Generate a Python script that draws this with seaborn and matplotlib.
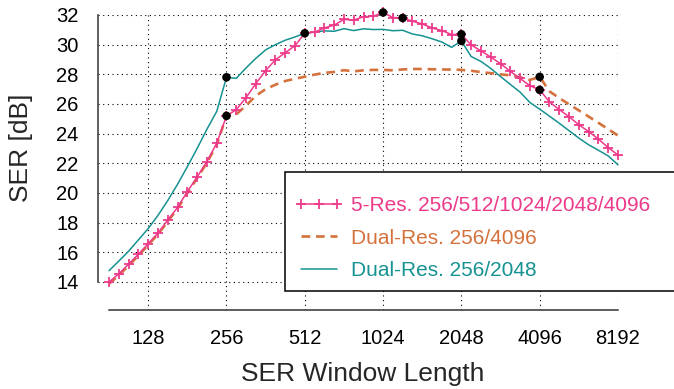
import numpy as np
import pandas as pd
import matplotlib
matplotlib.use("Agg")
import matplotlib.pyplot as plt
import matplotlib.ticker as mticker
from matplotlib.patches import Rectangle
import seaborn as sns

# ---------------- data ----------------
window_len = [90.5, 98.7, 107.6, 117.4, 128, 139.6, 152.2, 166.0, 181.0, 197.4, 215.3, 234.8,
              256, 279.2, 304.4, 332.0, 362.0, 394.8, 430.5, 469.5, 512, 558.3, 608.9, 664.0,
              724.1, 789.6, 861.1, 939.0, 1024, 1116.7, 1217.7, 1327.9, 1448.2, 1579.2, 1722.2,
              1878.0, 2048, 2233.4, 2435.5, 2655.9, 2896.3, 3158.4, 3444.3, 3756.0, 4096, 4466.8,
              4871.0, 5311.9, 5792.6, 6316.9, 6888.6, 7512.0, 8192]

ser_5res = [14.0, 14.55, 15.2, 15.87, 16.58, 17.3, 18.17, 19.03, 20.09, 21.08, 22.12, 23.35,
            25.2, 25.62, 26.43, 27.38, 28.25, 28.98, 29.46, 29.93, 30.77, 30.84, 31.13, 31.32,
            31.7, 31.66, 31.88, 31.92, 32.17, 31.83, 31.8, 31.58, 31.4, 31.13, 30.95,
            30.68, 30.7, 29.98, 29.58, 29.16, 28.72, 28.2, 27.72, 27.23, 26.95, 26.14,
            25.62, 25.14, 24.6, 24.14, 23.63, 23.06, 22.56]

ser_dual_4096 = [13.88, 14.45, 15.1, 15.78, 16.5, 17.22, 18.08, 18.95, 20.0, 21.0, 22.05, 23.25,
                 25.2, 25.3, 25.9, 26.55, 27.0, 27.3, 27.55, 27.7, 27.84, 27.98, 28.1, 28.16,
                 28.28, 28.2, 28.27, 28.3, 28.3, 28.27, 28.33, 28.36, 28.36, 28.34, 28.33,
                 28.32, 28.3, 28.24, 28.15, 28.08, 28.0, 27.93, 27.8, 27.62, 27.83, 26.85,
                 26.4, 25.98, 25.57, 25.15, 24.73, 24.3, 23.87]

ser_dual_2048 = [14.76, 15.41, 16.07, 16.84, 17.6, 18.49, 19.49, 20.59, 21.77, 23.0, 24.3, 25.5,
                 27.8, 27.73, 28.43, 29.08, 29.65, 30.0, 30.3, 30.52, 30.77, 30.85, 30.93, 30.9,
                 31.08, 30.95, 31.07, 31.02, 31.03, 30.94, 30.97, 30.72, 30.6, 30.4, 30.18,
                 29.82, 30.25, 29.2, 28.87, 28.4, 27.85, 27.32, 26.8, 26.1, 25.65, 25.18,
                 24.7, 24.2, 23.7, 23.25, 22.88, 22.5, 21.9]

dot_x = [256, 256, 512, 1024, 1217.7, 2048, 2048, 4096, 4096]
dot_y = [27.8, 25.2, 30.77, 32.17, 31.8, 30.7, 30.25, 27.83, 26.95]

x_ticks = [128, 256, 512, 1024, 2048, 4096, 8192]
y_ticks = [14, 16, 18, 20, 22, 24, 26, 28, 30, 32]

labels = ["5-Res. 256/512/1024/2048/4096", "Dual-Res. 256/4096", "Dual-Res. 256/2048"]
colors = ["#EE3A8A", "#D4713C", "#169292"]

# ---------------- style ----------------
sns.set_style("white")
plt.rcParams["font.family"] = ["Liberation Sans", "DejaVu Sans"]

fig = plt.figure(figsize=(6.74, 3.89), dpi=100)
W, H = 674, 389
ax = fig.add_axes([98 / W, 1 - 310 / H, (618 - 98) / W, (310 - 15) / H])

df = pd.DataFrame({"x": window_len, "a": ser_5res, "b": ser_dual_4096, "c": ser_dual_2048})

line_styles = [
    dict(linestyle="-", linewidth=1.1, marker="+", markersize=7, markeredgewidth=1.3, zorder=4),
    dict(linestyle=(0, (3.3, 2.2)), linewidth=1.9, marker="None", zorder=3),
    dict(linestyle="-", linewidth=1.1, marker="None", zorder=3),
]
handles = []
for col, c, st in zip(["a", "b", "c"], colors, line_styles):
    before = list(ax.lines)
    sns.lineplot(data=df, x="x", y=col, ax=ax, color=c)
    new = [ln for ln in ax.lines if ln not in before and len(ln.get_xdata()) > 0]
    ln = new[-1]
    ln.set(clip_on=False, markeredgecolor=c, markerfacecolor=c, **st)
    handles.append(ln)

sns.scatterplot(x=dot_x, y=dot_y, ax=ax, color="black", s=38, edgecolor="none",
                zorder=6, clip_on=False)

ax.set_xscale("log", base=2)
ax.set_xlim(2 ** 6.359, 8192)
ax.set_ylim(12.11, 32)
ax.set_xticks(x_ticks)
ax.xaxis.set_major_formatter(mticker.FixedFormatter([str(v) for v in x_ticks]))
ax.xaxis.set_minor_locator(mticker.NullLocator())
ax.set_yticks(y_ticks)
ax.set_yticklabels([str(v) for v in y_ticks])

ax.grid(True, which="major", color="black", linestyle=(0, (1, 3.2)), lw=0.8)
for s in ["top", "right"]:
    ax.spines[s].set_visible(False)
for s in ["left", "bottom"]:
    ax.spines[s].set_color("#333333")
    ax.spines[s].set_linewidth(1.1)
ax.spines["left"].set_bounds(14, 32)
ax.spines["bottom"].set_bounds(window_len[0], 8192)

ax.tick_params(axis="both", colors="#333333", labelcolor="black", labelsize=14.5,
               direction="out", length=8, width=1.0, pad=6)

ax.set_xlabel("SER Window Length", fontsize=19)
ax.set_ylabel("SER [dB]", fontsize=19)
ax.xaxis.set_label_coords((363 - 98) / 520, (310 - 362) / 295)
ax.yaxis.set_label_coords((33 - 98) / 520, (310 - 148) / 295)

leg = ax.legend(handles=handles, labels=labels,
                loc="upper left", bbox_to_anchor=(295 / W, 1 - 196 / H),
                bbox_transform=fig.transFigure, frameon=False, fontsize=15,
                handlelength=2.3, handletextpad=0.4, labelspacing=0.66,
                borderpad=0, borderaxespad=0, numpoints=3)
for t, c in zip(leg.get_texts(), colors):
    t.set_color(c)
leg.set_zorder(9)

box = Rectangle((285 / W, 1 - 291 / H), (690 - 285) / W, (291 - 172) / H,
                transform=fig.transFigure, facecolor="white",
                edgecolor="black", lw=1.1, zorder=8, clip_on=False)
ax.add_patch(box)

fig.savefig("out.png", dpi=100)
